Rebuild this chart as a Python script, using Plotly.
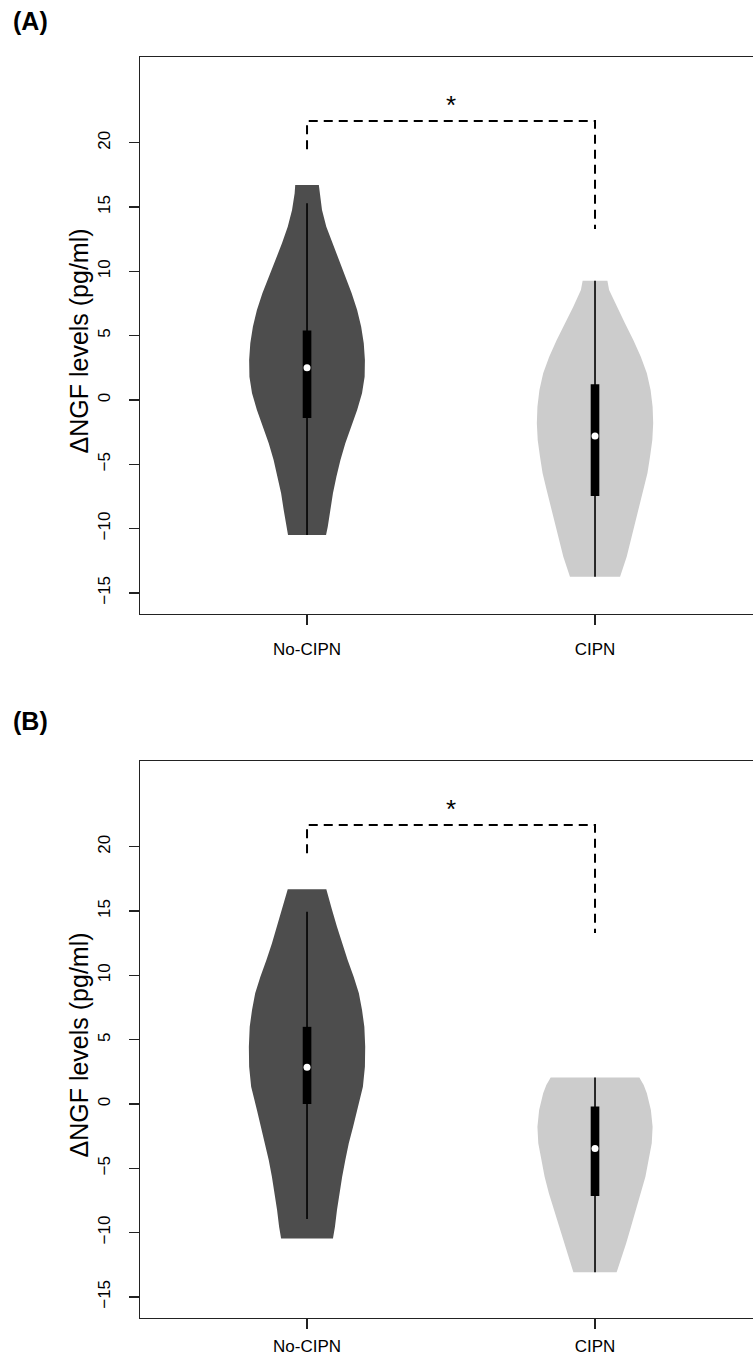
import plotly.graph_objects as go

# ---------------- data ----------------
groups = ["No-CIPN", "CIPN"]
positions = [1, 2]
colors = ["#4D4D4D", "#CCCCCC"]

# Panel A violin outlines: value levels and half-widths (x units)
A_noc_y = [16.72, 16.07, 14.77, 13.48, 12.18, 10.89, 9.59, 8.29, 7.00, 5.70, 4.41, 3.11,
           1.81, 0.52, -0.78, -2.07, -3.37, -4.67, -5.96, -7.26, -8.55, -9.85, -10.50]
A_noc_hw = [0.041, 0.043, 0.052, 0.067, 0.087, 0.110, 0.133, 0.155, 0.174, 0.188, 0.197, 0.201,
            0.200, 0.191, 0.174, 0.153, 0.133, 0.116, 0.102, 0.090, 0.081, 0.072, 0.066]
A_cip_y = [9.28, 8.55, 7.26, 5.96, 4.67, 3.37, 2.07, 0.78, -0.52, -1.81, -3.11, -4.41,
           -5.70, -7.00, -8.29, -9.59, -10.89, -12.18, -13.74]
A_cip_hw = [0.043, 0.049, 0.075, 0.104, 0.133, 0.159, 0.180, 0.193, 0.200, 0.202, 0.199, 0.191,
            0.182, 0.168, 0.154, 0.139, 0.124, 0.110, 0.087]

# Panel B violin outlines
B_noc_y = [16.69, 15.09, 13.79, 12.49, 11.20, 9.90, 8.61, 7.31, 6.01, 4.46, 2.90, 1.35,
           -0.47, -1.76, -3.06, -4.35, -5.65, -6.95, -8.24, -9.54, -10.45]
B_noc_hw = [0.067, 0.087, 0.104, 0.122, 0.141, 0.162, 0.180, 0.191, 0.199, 0.202, 0.201, 0.194,
            0.174, 0.160, 0.145, 0.133, 0.122, 0.112, 0.104, 0.097, 0.090]
B_cip_y = [2.07, 1.48, 0.83, -0.47, -1.76, -3.06, -4.35, -5.65, -6.95, -8.24, -9.54,
           -10.84, -12.13, -13.09]
B_cip_hw = [0.154, 0.169, 0.180, 0.194, 0.200, 0.197, 0.186, 0.175, 0.160, 0.142, 0.125,
            0.108, 0.090, 0.075]

# Box statistics [No-CIPN, CIPN]
A_q1 = [-1.4, -7.47]
A_q3 = [5.4, 1.22]
A_med = [2.5, -2.8]
A_wlo = [-10.5, -13.74]
A_whi = [15.3, 9.28]

B_q1 = [0.0, -7.15]
B_q3 = [6.0, -0.2]
B_med = [2.85, -3.45]
B_wlo = [-8.94, -13.09]
B_whi = [14.95, 2.07]

# Significance bracket (same in both panels)
brk_left_low = 19.5
brk_top = 21.7
brk_right_low = 13.3
star_y = 22.9

y_ticks = [-15, -10, -5, 0, 5, 10, 15, 20]
ylab = "ΔNGF levels (pg/ml)"
panel_labels = ["(A)", "(B)"]

FONT = "Liberation Sans, Arial, Helvetica, sans-serif"
BOX_HW = 0.015

fig = go.Figure()


def add_panel(xa, ya, vdata, q1, q3, med, wlo, whi):
    for i, (vy, vhw) in enumerate(vdata):
        c = positions[i]
        xs = [c - w for w in vhw] + [c + w for w in reversed(vhw)]
        ys = list(vy) + list(reversed(vy))
        fig.add_trace(go.Scatter(x=xs, y=ys, fill="toself", fillcolor=colors[i],
                                 mode="lines", line=dict(width=0, color=colors[i]),
                                 xaxis=xa, yaxis=ya, showlegend=False, hoverinfo="skip"))
        # whisker
        fig.add_trace(go.Scatter(x=[c, c], y=[wlo[i], whi[i]], mode="lines",
                                 line=dict(color="black", width=1.6),
                                 xaxis=xa, yaxis=ya, showlegend=False, hoverinfo="skip"))
        # box
        fig.add_trace(go.Scatter(x=[c - BOX_HW, c + BOX_HW, c + BOX_HW, c - BOX_HW, c - BOX_HW],
                                 y=[q1[i], q1[i], q3[i], q3[i], q1[i]], fill="toself",
                                 fillcolor="black", mode="lines",
                                 line=dict(width=0, color="black"),
                                 xaxis=xa, yaxis=ya, showlegend=False, hoverinfo="skip"))
        # median
        fig.add_trace(go.Scatter(x=[c], y=[med[i]], mode="markers",
                                 marker=dict(color="white", size=7, line=dict(width=0)),
                                 xaxis=xa, yaxis=ya, showlegend=False, hoverinfo="skip"))
    # bracket
    fig.add_trace(go.Scatter(x=[positions[0], positions[0], positions[1], positions[1]],
                             y=[brk_left_low, brk_top, brk_top, brk_right_low], mode="lines",
                             line=dict(color="black", width=2, dash="9px,6px"),
                             xaxis=xa, yaxis=ya, showlegend=False, hoverinfo="skip"))


add_panel("x", "y", [(A_noc_y, A_noc_hw), (A_cip_y, A_cip_hw)], A_q1, A_q3, A_med, A_wlo, A_whi)
add_panel("x2", "y2", [(B_noc_y, B_noc_hw), (B_cip_y, B_cip_hw)], B_q1, B_q3, B_med, B_wlo, B_whi)

xr = [0.42, 2.5486]
yr = [-16.64, 26.67]
dA = [0.5583, 1.0]
dB = [0.0, 0.4417]

xcommon = dict(range=xr, showgrid=False, zeroline=False, showline=True, mirror=True,
               linecolor="#222", linewidth=1.3, ticks="outside", ticklen=10, tickwidth=1.3,
               tickcolor="#222", tickvals=positions, ticktext=groups,
               tickfont=dict(family=FONT, size=17, color="black"),
               fixedrange=True, automargin=False)
ycommon = dict(range=yr, showgrid=False, zeroline=False, showline=True, mirror=False,
               linecolor="#222", linewidth=1.3, ticks="outside", ticklen=10, tickwidth=1.3,
               tickcolor="#222", tickvals=y_ticks,
               ticktext=[str(t).replace("-", "\u2212") for t in y_ticks],
               tickangle=-90, tickfont=dict(family=FONT, size=17, color="black"),
               ticklabelstandoff=12, fixedrange=True, automargin=False)

fig.update_layout(
    width=753, height=1356, autosize=False,
    margin=dict(l=140, r=0, t=57, b=38, autoexpand=False),
    plot_bgcolor="white", paper_bgcolor="white",
    xaxis=dict(anchor="y", domain=[0, 1], ticklabelstandoff=9, **xcommon),
    yaxis=dict(anchor="x", domain=dA, **ycommon),
    xaxis2=dict(anchor="y2", domain=[0, 1], ticklabelstandoff=2, **xcommon),
    yaxis2=dict(anchor="x2", domain=dB, **ycommon),
    showlegend=False,
)

annots = []
for lab, ypos in zip(panel_labels, [1.0287, 0.4738]):
    annots.append(dict(text="<b>%s</b>" % lab, xref="paper", yref="paper", x=-0.1786, y=ypos,
                       xanchor="center", yanchor="middle", showarrow=False,
                       font=dict(family=FONT, size=25, color="black")))
for ypos in [0.7744, 0.2161]:
    annots.append(dict(text=ylab, xref="paper", yref="paper", x=-0.0995, y=ypos,
                       xanchor="center", yanchor="middle", showarrow=False, textangle=-90,
                       font=dict(family=FONT, size=25, color="black")))
for xa, ya in [("x", "y"), ("x2", "y2")]:
    annots.append(dict(text="*", xref=xa, yref=ya, x=1.5, y=star_y, xanchor="center",
                       yanchor="middle", showarrow=False,
                       font=dict(family=FONT, size=26, color="black")))
fig.update_layout(annotations=annots)

# remove the default page margin so the figure sits at the window's top-left corner
fig.write_html("out.html",
               config={"displayModeBar": False, "staticPlot": True},
               post_script="document.body.style.margin='0';document.body.style.overflow='hidden';")
